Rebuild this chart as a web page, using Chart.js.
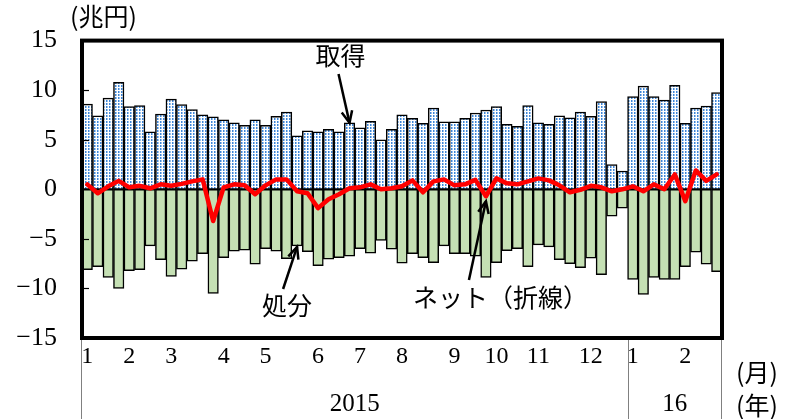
<!DOCTYPE html>
<html><head><meta charset="utf-8">
<script src="https://cdn.jsdelivr.net/npm/chart.js@4.4.1/dist/chart.umd.min.js"></script>
<style>html,body{margin:0;padding:0;background:#fff}#wrap{width:798px;height:419px;position:relative}</style>
</head><body><div id="wrap"><canvas id="c"></canvas></div>
<script>
// ---- data ----
const monthNames = ['1','2','3','4','5','6','7','8','9','10','11','12','1','2'];
const weeksPerMonth = [4,4,5,4,5,4,4,5,4,4,5,4,5,4];
const yearNames = ['2015','16'];
const monthsPerYear = [12,2];
const yTickValues = [-15,-10,-5,0,5,10,15];

const acquisitions = [8.6,7.4,9.2,10.8,8.35,8.45,5.8,7.6,9.1,8.55,8.05,7.5,7.3,
  7.0,6.7,6.45,7.0,6.45,7.35,7.8,5.4,5.9,5.8,6.05,5.8,
  6.7,6.2,6.85,5.0,6.05,7.5,7.15,6.65,8.2,6.8,6.8,
  7.15,7.7,8.0,8.35,6.55,6.35,8.45,6.7,6.55,7.4,7.2,7.8,7.35,
  8.85,2.5,1.85,9.35,10.4,9.35,9.0,10.5,6.65,8.2,8.4,9.75];
const disposals = [-8.1,-7.8,-8.9,-10.0,-8.2,-8.1,-5.7,-7.1,-8.8,-8.05,-7.25,-6.5,-10.5,
  -6.9,-6.25,-6.15,-7.55,-6.0,-6.25,-7.0,-5.7,-6.3,-7.7,-7.05,-6.9,
  -6.75,-6.0,-6.45,-5.15,-6.05,-7.45,-6.5,-6.9,-7.4,-5.7,-6.5,
  -6.5,-6.75,-8.9,-7.4,-6.2,-6.0,-7.8,-5.6,-5.8,-7.1,-7.5,-7.9,-6.95,
  -8.6,-2.7,-1.9,-9.1,-10.6,-8.9,-9.1,-9.1,-7.8,-6.35,-7.55,-8.3];
const net = [0.5,-0.4,0.3,0.85,0.2,0.35,0.1,0.5,0.35,0.55,0.8,1.0,-3.2,
  0.2,0.5,0.4,-0.5,0.4,1.0,1.0,-0.2,-0.4,-1.9,-1.0,-0.5,
  0.1,0.2,0.5,0.0,0.1,0.3,0.9,-0.3,0.8,1.0,0.4,
  0.5,0.95,-0.7,1.1,0.6,0.5,0.8,1.1,0.9,0.4,-0.3,-0.05,0.35,
  0.2,-0.2,0.0,0.3,-0.2,0.5,0.0,1.5,-1.2,1.9,0.85,1.5];

// week labels built from month tables
const weekLabels = [];
weeksPerMonth.forEach((n,i)=>{ for(let k=0;k<n;k++) weekLabels.push(k===0?monthNames[i]:''); });

function makePattern(){
  const c=document.createElement('canvas'); c.width=3; c.height=3;
  const g=c.getContext('2d');
  g.fillStyle='#ffffff'; g.fillRect(0,0,3,3);
  g.fillStyle='#3f86d8'; g.fillRect(1,1,1,2);
  g.fillStyle='#9cc3ec'; g.fillRect(2,1,1,2);
  return g.createPattern(c,'repeat');
}

function arrow(ctx, x1,y1,x2,y2){
  ctx.beginPath(); ctx.moveTo(x1,y1); ctx.lineTo(x2,y2); ctx.stroke();
  const ang=Math.atan2(y2-y1,x2-x1), L=13, s=0.42;
  ctx.beginPath();
  ctx.moveTo(x2-L*Math.cos(ang-s), y2-L*Math.sin(ang-s));
  ctx.lineTo(x2,y2);
  ctx.lineTo(x2-L*Math.cos(ang+s), y2-L*Math.sin(ang+s));
  ctx.stroke();
}

const deco = {
  id:'deco',
  afterDatasetsDraw(chart){
    const {ctx, chartArea:a, scales:{x,y}} = chart;
    ctx.save();
    // inner y tick marks
    ctx.strokeStyle='#000'; ctx.lineWidth=1.2;
    yTickValues.forEach(v=>{
      if(v===15||v===-15||v===0) return;
      const py=Math.round(y.getPixelForValue(v))+0.5;
      ctx.beginPath(); ctx.moveTo(a.left,py); ctx.lineTo(a.left+7,py); ctx.stroke();
    });
    // plot frame
    ctx.lineWidth=4; ctx.strokeStyle='#000';
    ctx.strokeRect(a.left, a.top, a.right-a.left, a.bottom-a.top);
    // lower axis separators
    ctx.lineWidth=1; ctx.strokeStyle='#808080';
    const w2015 = weeksPerMonth.slice(0,monthsPerYear[0]).reduce((s,v)=>s+v,0);
    const sepX = (x.getPixelForValue(w2015-1)+x.getPixelForValue(w2015))/2;
    [a.left-0.5, Math.round(sepX)+0.5, a.right-0.5].forEach(px=>{
      ctx.beginPath(); ctx.moveTo(px,a.bottom+2); ctx.lineTo(px,419); ctx.stroke();
    });
    // year labels
    ctx.fillStyle='#000'; ctx.textAlign='center'; ctx.textBaseline='middle';
    ctx.font='25px "Liberation Serif", serif';
    ctx.fillText(yearNames[0], (a.left+sepX)/2, 404);
    ctx.fillText(yearNames[1], (sepX+a.right)/2, 404);
    ctx.textAlign='left';
    ctx.font='25px "Noto Sans CJK JP"';
    ctx.fillText('(月)', 736, 372);
    ctx.fillText('(年)', 736, 405);
    ctx.fillText('(兆円)', 70, 16);
    // annotations
    ctx.font='25px "Noto Sans CJK JP"'; ctx.textAlign='center';
    ctx.lineWidth=2.5; ctx.strokeStyle='#000';
    const t1x=x.getPixelForValue(25), t1y=y.getPixelForValue(acquisitions[25]);
    ctx.fillText('取得', t1x-9, 55);
    arrow(ctx, t1x-11, 74, t1x, t1y);
    const t2x=x.getPixelForValue(20), t2y=y.getPixelForValue(disposals[20]);
    ctx.fillText('処分', t2x-10, 305);
    arrow(ctx, t2x-14, 289, t2x, t2y+1);
    const t3x=x.getPixelForValue(38), t3y=y.getPixelForValue(net[38]);
    ctx.textAlign='left';
    ctx.fillText('ネット（折線）', 413, 297);
    arrow(ctx, t3x-17, 280, t3x, t3y+5);
    ctx.restore();
  }
};

const ctx = document.getElementById('c').getContext('2d');
new Chart(ctx, {
  data:{
    labels: weekLabels,
    datasets:[
      {type:'line', label:'ネット', data:net, borderColor:'#ff0000', borderWidth:4.5,
       pointRadius:0, tension:0, borderJoinStyle:'round', borderCapStyle:'round', order:0},
      {type:'bar', label:'取得', data:acquisitions, backgroundColor:makePattern(),
       borderColor:'#000', borderWidth:1.5, borderSkipped:false, grouped:false,
       barPercentage:1, categoryPercentage:1, order:1},
      {type:'bar', label:'処分', data:disposals, backgroundColor:'#c5e0b4',
       borderColor:'#000', borderWidth:1.5, borderSkipped:false, grouped:false,
       barPercentage:1, categoryPercentage:1, order:1}
    ]
  },
  options:{
    responsive:true, maintainAspectRatio:false, animation:false, devicePixelRatio:1,
    layout:{padding:{top:37,right:76,left:0,bottom:0}},
    plugins:{legend:{display:false}, tooltip:{enabled:false}},
    scales:{
      x:{type:'category', offset:true,
        grid:{display:false, drawTicks:false}, border:{display:false},
        ticks:{autoSkip:false, maxRotation:0, minRotation:0, padding:4, color:'#000',
          font:{family:'Liberation Serif, serif', size:24}},
        afterFit(s){ s.height=81; }
      },
      y:{min:-15, max:15,
        grid:{display:false, drawTicks:false}, border:{display:false},
        ticks:{stepSize:5, padding:25, color:'#000', font:{family:'Liberation Serif, serif', size:26},
          callback:(v)=> v<0 ? '\u2212'+Math.abs(v) : String(v)},
        afterFit(s){ s.width=82; }
      }
    }
  },
  plugins:[deco]
});
</script></body></html>
